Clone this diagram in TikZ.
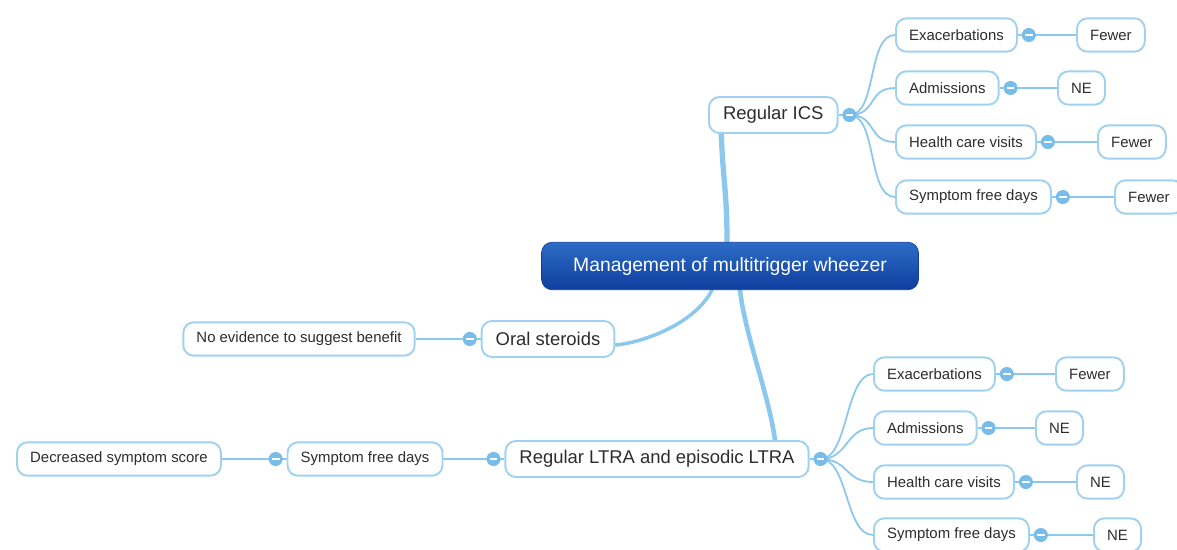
\documentclass[tikz,border=0pt]{standalone}
\usepackage{fontspec}
\setmainfont{Liberation Sans}
\usetikzlibrary{positioning,backgrounds,calc}
\definecolor{mapline}{RGB}{140,200,238}
\definecolor{boxline}{RGB}{160,210,240}
\definecolor{knobfill}{RGB}{120,188,234}
\definecolor{roottop}{RGB}{45,108,198}
\definecolor{rootbot}{RGB}{15,62,158}
\definecolor{txt}{RGB}{45,45,45}

\begin{document}
\begin{tikzpicture}
  [x=0.02cm,y=-0.02cm,
   root/.style={rounded corners=6pt,top color=roottop,bottom color=rootbot,draw=rootbot,
     text=white,font=\fontsize{11}{13}\selectfont,inner xsep=18pt,minimum height=27pt},
   topic/.style={rounded corners=6pt,draw=boxline,line width=1.1pt,fill=white,text=txt,
     font=\fontsize{10.5}{12}\selectfont,inner xsep=8pt,minimum height=20.5pt},
   leaf/.style={rounded corners=6pt,draw=boxline,line width=1.1pt,fill=white,text=txt,
     font=\fontsize{8.5}{10}\selectfont,inner xsep=7.5pt,minimum height=19pt},
   knob/.style={circle,fill=knobfill,inner sep=0pt,minimum size=8pt,
     path picture={\draw[white,line width=0.9pt]
       ([xshift=-2.2pt]path picture bounding box.center) --
       ([xshift=2.2pt]path picture bounding box.center);}},
   trunk/.style={draw=mapline,line cap=round},
   twig/.style={draw=mapline,line width=1pt}]

  \path[use as bounding box] (0,0) rectangle (1177,549);

  % centre
  \node[root] (root) at (730,266) {Management of multitrigger wheezer};

  % main topics
  \node[topic,anchor=west] (ics) at (708,115) {Regular ICS};
  \node[topic] (oral) at (548,339) {Oral steroids};
  \node[topic] (ltra) at (657,459) {Regular LTRA and episodic LTRA};

  \node[knob, right=2pt of ics] (kics) {};
  \node[knob, left=2pt of oral] (koral) {};
  \node[knob, right=2pt of ltra] (kltra) {};
  \node[knob, left=2pt of ltra] (kltraL) {};

  % oral steroids / LTRA to the left
  \node[leaf] (noev) at (299,339) {No evidence to suggest benefit};
  \node[leaf] (sfdL) at (365,459) {Symptom free days};
  \node[knob, left=2pt of sfdL] (ksfdL) {};
  \node[leaf] (dss) at (119,459) {Decreased symptom score};

  % regular ICS outcomes
  \node[leaf,anchor=west] (exA) at (895,35) {Exacerbations};
  \node[leaf,anchor=west] (adA) at (895,88) {Admissions};
  \node[leaf,anchor=west] (hcA) at (895,142) {Health care visits};
  \node[leaf,anchor=west] (sfA) at (895,197) {Symptom free days};
  \node[knob, right=2pt of exA] (kexA) {};
  \node[knob, right=2pt of adA] (kadA) {};
  \node[knob, right=2pt of hcA] (khcA) {};
  \node[knob, right=2pt of sfA] (ksfA) {};
  \node[leaf,anchor=west] (rexA) at (1076,35) {Fewer};
  \node[leaf,anchor=west] (radA) at (1057,88) {NE};
  \node[leaf,anchor=west] (rhcA) at (1097,142) {Fewer};
  \node[leaf,anchor=west] (rsfA) at (1114,197) {Fewer};

  % LTRA outcomes
  \node[leaf,anchor=west] (exB) at (873,374) {Exacerbations};
  \node[leaf,anchor=west] (adB) at (873,428) {Admissions};
  \node[leaf,anchor=west] (hcB) at (873,482) {Health care visits};
  \node[leaf,anchor=west] (sfB) at (873,535) {Symptom free days};
  \node[knob, right=2pt of exB] (kexB) {};
  \node[knob, right=2pt of adB] (kadB) {};
  \node[knob, right=2pt of hcB] (khcB) {};
  \node[knob, right=2pt of sfB] (ksfB) {};
  \node[leaf,anchor=west] (rexB) at (1055,374) {Fewer};
  \node[leaf,anchor=west] (radB) at (1035,428) {NE};
  \node[leaf,anchor=west] (rhcB) at (1076,482) {NE};
  \node[leaf,anchor=west] (rsfB) at (1093,535) {NE};

  \begin{scope}[on background layer]
    \fill[white] (0,0) rectangle (1177,549);

    \draw[trunk,line width=3pt] ($(root.north)+(-3,0)$) .. controls +(0,-50) and +(2,50) .. ($(ics.south)+(-52,0)$);
    \draw[trunk,line width=2.6pt] ($(root.south)+(10,0)$) .. controls +(5,45) and +(-6,-45) .. ($(ltra.north)+(118,0)$);
    \draw[trunk,line width=2pt] ($(root.south)+(-18,0)$) .. controls +(-18,35) and +(25,-2) .. ($(oral.east)+(0,6)$);

    \draw[twig] (ics.east) -- (kics.center);
    \draw[twig] (ltra.east) -- (kltra.center);
    \draw[twig] (oral.west) -- (koral.center) -- (noev.east);
    \draw[twig] (ltra.west) -- (kltraL.center) -- (sfdL.east);
    \draw[twig] (sfdL.west) -- (ksfdL.center) -- (dss.east);

    \foreach \c in {exA,adA,hcA,sfA}
      {\draw[twig] (kics.center) .. controls +(28,0) and +(-28,0) .. (\c.west);}
    \foreach \c in {exB,adB,hcB,sfB}
      {\draw[twig] (kltra.center) .. controls +(28,0) and +(-28,0) .. (\c.west);}
    \foreach \c in {exA,adA,hcA,sfA,exB,adB,hcB,sfB}
      {\draw[twig] (\c.east) -- (k\c.center) -- (r\c.west);}
  \end{scope}
\end{tikzpicture}
\end{document}
